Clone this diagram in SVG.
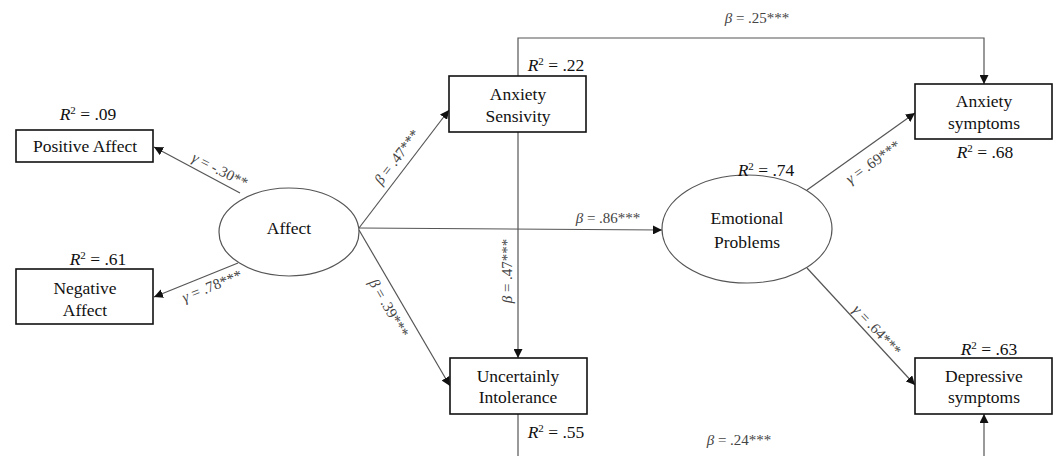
<svg xmlns="http://www.w3.org/2000/svg" width="1057" height="456" viewBox="0 0 1057 456">
<style>
.box{fill:#fff;stroke:#111;stroke-width:1.6}
.ell{fill:#fff;stroke:#555;stroke-width:1.2}
.t{font-family:"Liberation Serif",serif;font-size:17.5px;fill:#111;text-anchor:middle}
.r2{font-family:"Liberation Serif",serif;font-size:17.5px;fill:#111;text-anchor:middle}
.lab{font-family:"Liberation Serif",serif;font-size:15px;fill:#444;text-anchor:middle;dominant-baseline:central}
.ln{fill:none;stroke:#555;stroke-width:1.2}
.i{font-style:italic}
</style>
<defs>
<marker id="ah" viewBox="0 0 10 10" refX="10" refY="5" markerWidth="9" markerHeight="9" markerUnits="userSpaceOnUse" orient="auto">
<path d="M0,0 L10,5 L0,10 z" fill="#111"/>
</marker>
</defs>
<g id="connectors">
<line class="ln" x1="240" y1="193" x2="154" y2="147" marker-end="url(#ah)"/>
<line class="ln" x1="238" y1="263" x2="154" y2="297" marker-end="url(#ah)"/>
<line class="ln" x1="359" y1="228" x2="449" y2="110" marker-end="url(#ah)"/>
<line class="ln" x1="359" y1="228" x2="662" y2="230" marker-end="url(#ah)"/>
<line class="ln" x1="359" y1="230" x2="450" y2="386" marker-end="url(#ah)"/>
<line class="ln" x1="518" y1="132" x2="518" y2="358" marker-end="url(#ah)"/>
<polyline class="ln" points="518,76 518,38 984,38 984,84" marker-end="url(#ah)"/>
<line class="ln" x1="807" y1="190" x2="915" y2="113" marker-end="url(#ah)"/>
<line class="ln" x1="807" y1="268" x2="915" y2="385" marker-end="url(#ah)"/>
<line class="ln" x1="518" y1="414" x2="518" y2="456"/>
<line class="ln" x1="984" y1="456" x2="984" y2="414" marker-end="url(#ah)"/>
<text class="lab" transform="translate(220,170) rotate(27)"><tspan class="i">γ</tspan> = -.30**</text>
<text class="lab" transform="translate(212,286) rotate(-22)"><tspan class="i">γ</tspan> = .78***</text>
<text class="lab" transform="translate(397,157) rotate(-53)"><tspan class="i">β</tspan> = .47***</text>
<text class="lab" transform="translate(389,308) rotate(60)"><tspan class="i">β</tspan> = .39***</text>
<text class="lab" transform="translate(507,271) rotate(-90)"><tspan class="i">β</tspan> = .47***</text>
<text class="lab" x="608" y="218"><tspan class="i">β</tspan> = .86***</text>
<text class="lab" x="757" y="18"><tspan class="i">β</tspan> = .25***</text>
<text class="lab" x="739" y="440"><tspan class="i">β</tspan> = .24***</text>
<text class="lab" transform="translate(873,162) rotate(-35.5)"><tspan class="i">γ</tspan> = .69***</text>
<text class="lab" transform="translate(877,330) rotate(47)"><tspan class="i">γ</tspan> = .64***</text>
</g>
<g id="positive-affect">
<rect class="box" x="16" y="130" width="137" height="32"/>
<text class="t" x="85" y="152">Positive Affect</text>
<text class="r2" x="88" y="120"><tspan class="i">R</tspan><tspan dy="-6" font-size="11">2</tspan><tspan dy="6"> = .09</tspan></text>
</g>
<g id="negative-affect">
<rect class="box" x="16" y="269" width="137" height="55"/>
<text class="t" x="85" y="294">Negative</text>
<text class="t" x="85" y="316">Affect</text>
<text class="r2" x="98" y="265"><tspan class="i">R</tspan><tspan dy="-6" font-size="11">2</tspan><tspan dy="6"> = .61</tspan></text>
</g>
<g id="affect">
<ellipse class="ell" cx="289" cy="232" rx="70" ry="44"/>
<text class="t" x="289" y="234">Affect</text>
</g>
<g id="anxiety-sensivity">
<rect class="box" x="449" y="76" width="137" height="56"/>
<text class="t" x="518" y="100">Anxiety</text>
<text class="t" x="518" y="122">Sensivity</text>
<text class="r2" x="556" y="71"><tspan class="i">R</tspan><tspan dy="-6" font-size="11">2</tspan><tspan dy="6"> = .22</tspan></text>
</g>
<g id="uncertainly-intolerance">
<rect class="box" x="450" y="358" width="137" height="56"/>
<text class="t" x="518" y="382">Uncertainly</text>
<text class="t" x="518" y="403">Intolerance</text>
<text class="r2" x="556" y="438"><tspan class="i">R</tspan><tspan dy="-6" font-size="11">2</tspan><tspan dy="6"> = .55</tspan></text>
</g>
<g id="emotional-problems">
<ellipse class="ell" cx="747" cy="229" rx="85" ry="54"/>
<text class="t" x="747" y="224">Emotional</text>
<text class="t" x="747" y="248">Problems</text>
<text class="r2" x="766" y="176"><tspan class="i">R</tspan><tspan dy="-6" font-size="11">2</tspan><tspan dy="6"> = .74</tspan></text>
</g>
<g id="anxiety-symptoms">
<rect class="box" x="915" y="84" width="137" height="55"/>
<text class="t" x="984" y="107">Anxiety</text>
<text class="t" x="984" y="129">symptoms</text>
<text class="r2" x="985" y="158"><tspan class="i">R</tspan><tspan dy="-6" font-size="11">2</tspan><tspan dy="6"> = .68</tspan></text>
</g>
<g id="depressive-symptoms">
<rect class="box" x="915" y="358" width="137" height="56"/>
<text class="t" x="984" y="382">Depressive</text>
<text class="t" x="984" y="403">symptoms</text>
<text class="r2" x="989" y="355"><tspan class="i">R</tspan><tspan dy="-6" font-size="11">2</tspan><tspan dy="6"> = .63</tspan></text>
</g>
</svg>
